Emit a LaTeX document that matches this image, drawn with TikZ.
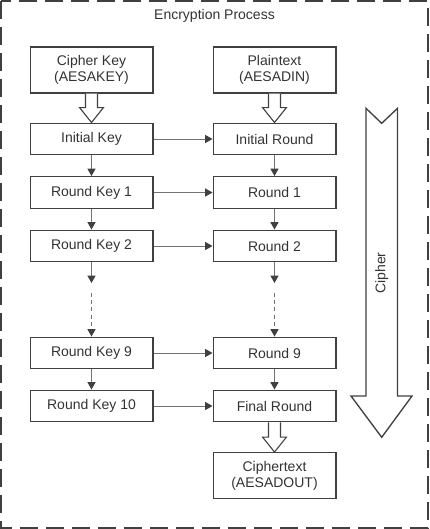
\documentclass[tikz,border=0pt]{standalone}
\usepackage{fontspec}
\setmainfont{Liberation Sans}
\usepackage{tikz}
\usetikzlibrary{arrows.meta,calc}
\definecolor{encline}{RGB}{64,64,64}
\definecolor{enctext}{RGB}{51,51,51}
\definecolor{encconn}{RGB}{115,115,115}
\tikzstyle{stage} = [rectangle, minimum width=92pt, minimum height=23.7pt, text centered, draw=encline, line width=1pt, text=enctext, inner sep=2pt]
\tikzstyle{stagetwo} = [stage, minimum height=34.5pt, align=center]
\tikzstyle{arrow} = [line width=0.75pt, draw=encconn, -{Triangle[length=5.5pt,width=6pt,color=encline]}]
\tikzstyle{gaparrow} = [arrow, dash pattern=on 3pt off 2.5pt]
\tikzstyle{hollow} = [line width=0.8pt, draw=encline, fill=white]
\tikzstyle{frame} = [line width=1.1pt, draw=encline, dash pattern=on 13.5pt off 6pt]
\newcommand{\openarrow}[2]{%
\draw[hollow] ($(#1.south)+(-6,0)$) -- ($(#2.north)+(-6,-15)$) -- ($(#2.north)+(-12,-15)$) -- (#2.north) -- ($(#2.north)+(12,-15)$) -- ($(#2.north)+(6,-15)$) -- ($(#1.south)+(6,0)$);}
\begin{document}
\begin{tikzpicture}[x=0.75pt, y=-0.75pt, font=\fontsize{10.5}{12}\selectfont]
\useasboundingbox (0,0) rectangle (429,529);
% Outer frame
\draw[frame] (1,1) rectangle (428,528);
\node[text=enctext] (title) at (214.5,16) {Encryption Process};

% Inputs
\node[stagetwo] (ckey) at (91.5,70) {Cipher Key\\(AESAKEY)};
\node[stagetwo] (ptext) at (274.5,70) {Plaintext\\(AESADIN)};

% Key schedule
\node[stage] (ikey) at (91.5,139) {Initial Key};
\node[stage] (rkone) at (91.5,192.5) {Round Key 1};
\node[stage] (rktwo) at (91.5,246) {Round Key 2};
\node[stage] (rknine) at (91.5,353) {Round Key 9};
\node[stage] (rkten) at (91.5,406) {Round Key 10};

% Rounds
\node[stage] (iround) at (274.5,139) {Initial Round};
\node[stage] (rone) at (274.5,192.5) {Round 1};
\node[stage] (rtwo) at (274.5,246) {Round 2};
\node[stage] (rnine) at (274.5,353) {Round 9};
\node[stage] (fround) at (274.5,406) {Final Round};

% Output
\node[stagetwo] (ctext) at (274.5,475.7) {Ciphertext\\(AESADOUT)};

% Hollow arrows
\openarrow{ckey}{ikey}
\openarrow{ptext}{iround}
\openarrow{fround}{ctext}

% Keys into rounds
\draw[arrow] (ikey) -- (iround);
\draw[arrow] (rkone) -- (rone);
\draw[arrow] (rktwo) -- (rtwo);
\draw[arrow] (rknine) -- (rnine);
\draw[arrow] (rkten) -- (fround);

% Down the columns
\draw[arrow] (ikey) -- (rkone);
\draw[arrow] (rkone) -- (rktwo);
\draw[arrow] (rknine) -- (rkten);
\draw[arrow] (iround) -- (rone);
\draw[arrow] (rone) -- (rtwo);
\draw[arrow] (rnine) -- (fround);

% Skipped rounds
\coordinate (kgapa) at (91.5,283);
\coordinate (kgapb) at (91.5,292.5);
\coordinate (rgapa) at (274.5,283);
\coordinate (rgapb) at (274.5,292.5);
\draw[arrow] (rktwo) -- (kgapa);
\draw[gaparrow] (kgapb) -- (rknine);
\draw[arrow] (rtwo) -- (rgapa);
\draw[gaparrow] (rgapb) -- (rnine);

% Cipher arrow
\draw[hollow, line width=1pt] (366,108.3) -- (381.7,123.3) -- (397.5,108.3) -- (397.5,396) -- (412,396) -- (381.7,437.3) -- (351,396) -- (366,396) -- cycle;
\node[rotate=90, text=enctext] (cipherlbl) at (381.7,273) {Cipher};
\end{tikzpicture}
\end{document}
